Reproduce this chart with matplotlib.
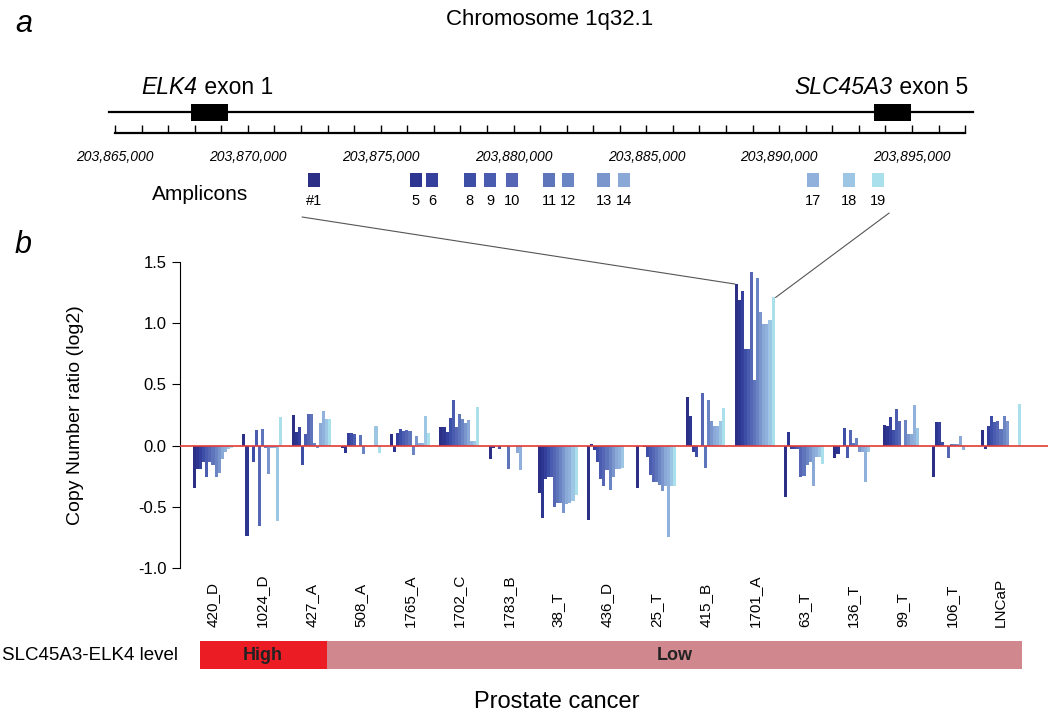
import numpy as np
import matplotlib
matplotlib.use("Agg")
import matplotlib.pyplot as plt
from matplotlib.patches import Rectangle, ConnectionPatch
from matplotlib.transforms import blended_transform_factory

plt.rcParams['font.family'] = ['Liberation Sans', 'DejaVu Sans']

# ---- data ----
samples = ['420_D', '1024_D', '427_A', '508_A', '1765_A', '1702_C', '1783_B', '38_T',
           '436_D', '25_T', '415_B', '1701_A', '63_T', '136_T', '99_T', '106_T', 'LNCaP']

amplicon_names = ['#1', '5', '6', '8', '9', '10', '11', '12', '13', '14', '17', '18', '19']
amplicon_pos = [203872490, 203876330, 203876930, 203878360, 203879115, 203879940, 203881340,
                203882050, 203883400, 203884160, 203891270, 203892630, 203893720]
amplicon_colors = ['#2b2f86', '#2c3590', '#34409c', '#3d4ea6', '#4a5cb0', '#5466b4', '#5e74bb',
                   '#6b84c3', '#7b96cd', '#8aa9d6', '#8fb1db', '#9cc6e3', '#aadfec']

# copy number ratio (log2), one row per sample, one column per amplicon
cn_420_D = [-0.35, -0.19, -0.19, -0.13, -0.26, -0.13, -0.155, -0.26, -0.22, -0.11, -0.05, -0.03, -0.02]
cn_1024_D = [0.095, -0.74, 0.0, -0.135, 0.125, -0.66, 0.135, -0.02, -0.235, -0.02, -0.02, -0.62, 0.23]
cn_427_A = [0.25, 0.11, 0.15, -0.155, 0.095, 0.26, 0.26, 0.02, -0.02, 0.185, 0.28, 0.22, 0.22]
cn_508_A = [-0.02, -0.06, 0.10, 0.10, 0.095, 0.0, 0.085, -0.07, 0.0, 0.0, 0.0, 0.16, -0.06]
cn_1765_A = [0.095, -0.05, 0.10, 0.135, 0.12, 0.13, 0.12, -0.08, 0.075, 0.02, 0.02, 0.245, 0.10]
cn_1702_C = [0.15, 0.15, 0.11, 0.225, 0.37, 0.155, 0.26, 0.22, 0.185, 0.21, 0.04, 0.04, 0.315]
cn_1783_B = [-0.11, -0.02, 0.0, -0.03, 0.0, 0.0, -0.19, 0.0, 0.0, -0.06, -0.20, 0.0, 0.0]
cn_38_T = [-0.39, -0.59, -0.27, -0.26, -0.26, -0.50, -0.47, -0.47, -0.55, -0.48, -0.47, -0.45, -0.40]
cn_436_D = [-0.61, 0.01, -0.04, -0.13, -0.27, -0.33, -0.20, -0.36, -0.26, -0.19, -0.19, -0.18, 0.0]
cn_25_T = [-0.345, 0.0, -0.01, -0.09, -0.24, -0.30, -0.30, -0.32, -0.37, -0.33, -0.745, -0.33, -0.33]
cn_415_B = [0.40, 0.24, -0.05, -0.09, 0.0, 0.43, -0.18, 0.37, 0.20, 0.16, 0.16, 0.20, 0.31]
cn_1701_A = [1.32, 1.19, 1.26, 0.79, 0.79, 1.42, 0.54, 1.37, 1.09, 0.99, 0.99, 1.03, 1.21]
cn_63_T = [-0.42, 0.11, -0.025, -0.03, -0.03, -0.26, -0.25, -0.16, -0.13, -0.33, -0.09, -0.09, -0.15]
cn_136_T = [-0.105, -0.07, 0.0, 0.145, -0.105, 0.125, 0.02, 0.06, -0.055, -0.055, -0.30, -0.05, 0.0]
cn_99_T = [0.17, 0.16, 0.23, 0.125, 0.30, 0.20, 0.0, 0.21, 0.095, 0.095, 0.33, 0.145, 0.0]
cn_106_T = [-0.26, 0.19, 0.19, 0.03, 0.0, -0.105, 0.015, 0.015, 0.015, 0.08, -0.04, 0.0, 0.0]
cn_LNCaP = [0.13, -0.03, 0.16, 0.24, 0.19, 0.20, 0.135, 0.24, 0.20, 0.0, 0.0, 0.0, 0.34]

copy_number = [cn_420_D, cn_1024_D, cn_427_A, cn_508_A, cn_1765_A, cn_1702_C, cn_1783_B, cn_38_T,
               cn_436_D, cn_25_T, cn_415_B, cn_1701_A, cn_63_T, cn_136_T, cn_99_T, cn_106_T, cn_LNCaP]

levels = ['High', 'High', 'High'] + ['Low'] * 14

genomic_ticks = [203865000, 203870000, 203875000, 203880000, 203885000, 203890000, 203895000]
gene_line = (203864774, 203897296)
elk4_exon = (203867860, 203869250)
slc_exon = (203893570, 203894960)

# ---- figure ----
W, H = 1050, 713
fig = plt.figure(figsize=(W / 100, H / 100), dpi=100)


def frame(x0, y0, x1, y1):
    # pixel box -> figure fraction
    return [x0 / W, 1 - y1 / H, (x1 - x0) / W, (y1 - y0) / H]


fig.text(15 / W, 1 - 24 / H, 'a', fontsize=22, style='italic', va='center')
fig.text(15 / W, 1 - 245 / H, 'b', fontsize=22, style='italic', va='center')
fig.text(550 / W, 1 - 19 / H, 'Chromosome 1q32.1', fontsize=16, ha='center', va='center')

# panel a: genomic diagram
bp_px = 797 / 30000
ax_top = fig.add_axes([0, 1 - 240 / H, 1, 240 / H])
ax_top.set_xlim(203865000 - 115 / bp_px, 203865000 + 935 / bp_px)
ax_top.set_ylim(240, 0)
ax_top.axis('off')

ax_top.plot(gene_line, [112, 112], color='black', lw=1.6)
for ex in (elk4_exon, slc_exon):
    ax_top.add_patch(Rectangle((ex[0], 104), ex[1] - ex[0], 17, color='black', lw=0))

t = ax_top.text(203866000, 88, 'ELK4', fontsize=16.5, style='italic', ha='left', va='center')
ax_top.annotate(' exon 1', xy=(1, 0.5), xycoords=t, fontsize=16.5, ha='left', va='center')
t = ax_top.text(203897100, 88, ' exon 5', fontsize=16.5, ha='right', va='center')
ax_top.annotate('SLC45A3', xy=(0, 0.5), xycoords=t, fontsize=16.5, style='italic', ha='right', va='center')

ruler = np.arange(203865000, 203897001, 1000)
ax_top.plot([ruler[0], ruler[-1]], [133, 133], color='black', lw=1.6)
ax_top.vlines(ruler, 125, 133, color='black', lw=1)
for g in genomic_ticks:
    ax_top.text(g, 157, f'{g:,}', fontsize=10, style='italic', ha='center', va='center')

amp_w = 480
for name, pos, col in zip(amplicon_names, amplicon_pos, amplicon_colors):
    ax_top.add_patch(Rectangle((pos - amp_w / 2, 173), amp_w, 13.5, color=col, lw=0))
    ax_top.text(pos, 201, name, fontsize=10.5, ha='center', va='center')
ax_top.text(200 / W, 194, 'Amplicons', fontsize=15, ha='center', va='center',
            transform=blended_transform_factory(fig.transFigure, ax_top.transData))

# panel b: copy number bars
gap = 49.25
ax = fig.add_axes(frame(180, 262, 1048, 568))
ax.set_xlim((180 - 213) / gap, (1048 - 213) / gap)
ax.set_ylim(-1.0, 1.5)
bw = 3.05 / gap
n_amp = len(amplicon_names)
offs = (np.arange(n_amp) - (n_amp - 1) / 2) * bw
for i, vals in enumerate(copy_number):
    ax.bar(i + offs, vals, width=bw, color=amplicon_colors, linewidth=0)
ax.axhline(0, color='#e23b35', lw=1.2, zorder=3)

for s in ('top', 'right', 'bottom'):
    ax.spines[s].set_visible(False)
ax.spines['left'].set_bounds(-1.0, 1.5)
ax.spines['left'].set_linewidth(0.8)
ax.set_xticks([])
ax.set_yticks([-1.0, -0.5, 0.0, 0.5, 1.0, 1.5])
ax.set_yticklabels(['-1.0', '-0.5', '0.0', '0.5', '1.0', '1.5'])
ax.tick_params(axis='y', direction='out', length=6, width=0.8, labelsize=12)
fig.text(75 / W, 1 - 415 / H, 'Copy Number ratio (log2)', fontsize=14, rotation=90,
         ha='center', va='center')

lab_tr = blended_transform_factory(ax.transData, fig.transFigure)
for i, s in enumerate(samples):
    ax.text(i, 1 - 627 / H, s, fontsize=11, rotation=90, ha='center', va='bottom',
            transform=lab_tr, clip_on=False)

# connectors from the amplicon map to the 1701_A bars
k = samples.index('1701_A')
con1 = ConnectionPatch(xyA=(amplicon_pos[0] - 450, 217), coordsA=ax_top.transData,
                       xyB=(k + offs[0] - bw / 2, cn_1701_A[0]), coordsB=ax.transData,
                       color='#555555', lw=0.8)
con2 = ConnectionPatch(xyA=(amplicon_pos[-1] + 420, 213), coordsA=ax_top.transData,
                       xyB=(k + offs[-1] + bw / 2 + 0.02, cn_1701_A[-1]), coordsB=ax.transData,
                       color='#555555', lw=0.8)
fig.add_artist(con1)
fig.add_artist(con2)

# expression level strip
ax_lv = fig.add_axes(frame(180, 641, 1048, 669))
ax_lv.set_xlim(ax.get_xlim())
ax_lv.set_ylim(0, 1)
ax_lv.axis('off')
n_high = levels.count('High')
left, split, right = -0.27, n_high - 0.69, len(samples) - 0.57
ax_lv.axvspan(left, split, color='#ec1c24', lw=0)
ax_lv.axvspan(split, right, color='#d0878d', lw=0)
ax_lv.text((left + split) / 2, 0.5, 'High', fontsize=13, fontweight='bold', ha='center', va='center', color='#222222')
ax_lv.text((split + right) / 2, 0.5, 'Low', fontsize=13, fontweight='bold', ha='center', va='center', color='#222222')
fig.text(2 / W, 1 - 656 / H, 'SLC45A3-ELK4 level', fontsize=13.5, ha='left', va='center')

fig.text(557 / W, 1 - 702 / H, 'Prostate cancer', fontsize=17, ha='center', va='center')

fig.savefig('out.png', dpi=100)
